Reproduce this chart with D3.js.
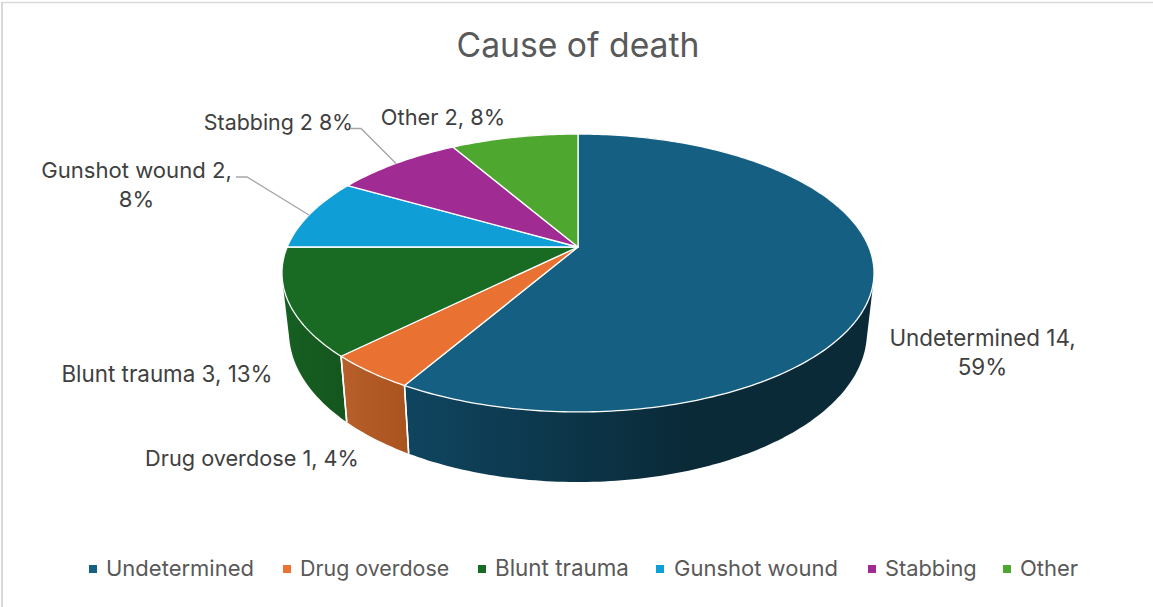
<!DOCTYPE html>
<html><head><meta charset="utf-8">
<script src="https://cdn.jsdelivr.net/npm/d3@7"></script>
<style>html,body{margin:0;padding:0;background:#fff}svg{display:block}</style></head>
<body><svg id="c" width="1153" height="607"></svg>
<script>
const categories=["Undetermined","Drug overdose","Blunt trauma","Gunshot wound","Stabbing","Other"];
const values=[14,1,3,2,2,2];
const colors=["#156082","#E97132","#196B24","#0F9ED5","#A02B93","#4EA72E"];
const sideLight=["#0f4560","#b85f2b","#175f22","#0b7aa5","#7d2173","#3b8223"];
const sideDark=["#0a2a38","#a9531f","#14561e","#0b7aa5","#7d2173","#3b8223"];
const chartTitle="Cause of death";
const FONT="Inter,sans-serif";
const svg=d3.select("#c");
svg.append("line").attr("x1",2).attr("x2",2).attr("y1",2).attr("y2",607).attr("stroke","#d9d9d9").attr("stroke-width",2);
svg.append("line").attr("x1",1).attr("x2",1153).attr("y1",2.5).attr("y2",2.5).attr("stroke","#d9d9d9").attr("stroke-width",1.5);
svg.append("text").attr("x",578).attr("y",57).attr("text-anchor","middle").attr("font-family",FONT).attr("font-size",33.7).attr("fill","#595959").text(chartTitle);

const cx=578,k=0.187;
const proj=(a,ax,b,y0)=>{const u=Math.sin(a),v=Math.cos(a),d=1+k*v;return [cx+ax*u/d,(y0-b*v)/d];};
const rimTop=a=>proj(a,290.8,87.9,247);
const rimBot=a=>proj(a,283.8,87.4,304.5);
const pie=d3.pie().sort(null).value(d=>d)(values);
const line=d3.line();
const samples=(s,e)=>{const n=Math.max(4,Math.ceil((e-s)*60));return d3.range(n+1).map(i=>s+(e-s)*i/n);};
const defs=svg.append("defs");
const g=svg.append("g");
pie.forEach((p,i)=>{
  const as=samples(p.startAngle,p.endAngle);
  const hull=d3.polygonHull(as.map(rimTop).concat(as.map(rimBot)));
  const [xMin,xMax]=d3.extent(hull,d=>d[0]);
  const gr=defs.append("linearGradient").attr("id","s"+i).attr("gradientUnits","userSpaceOnUse").attr("x1",xMin).attr("x2",xMax).attr("y1",0).attr("y2",0);
  gr.append("stop").attr("offset",0).attr("stop-color",sideLight[i]);
  gr.append("stop").attr("offset",i===0?0.6:1).attr("stop-color",sideDark[i]);
  g.append("path").attr("d",line(hull)+"Z").attr("fill",`url(#s${i})`).attr("stroke","none");
});
pie.forEach(p=>{
  [p.startAngle,p.endAngle].forEach(a=>{ if(Math.cos(a)<0&&Math.sin(a)<0) g.append("path").attr("d",line([rimTop(a),rimBot(a)])).attr("stroke","#fff").attr("stroke-width",1.5).attr("fill","none");});
});
pie.forEach((p,i)=>{
  const pts=[[cx,247]].concat(samples(p.startAngle,p.endAngle).map(rimTop));
  g.append("path").attr("d",line(pts)+"Z").attr("fill",colors[i]).attr("stroke","#fff").attr("stroke-width",1.3).attr("stroke-linejoin","round");
});
const labels=[
 {l:["Undetermined 14,","59%"],x:982.5,y:346,s:22.4},
 {l:["Drug overdose 1, 4%"],x:252,y:466,s:21.7},
 {l:["Blunt trauma 3, 13%"],x:167,y:382,s:22.4},
 {l:["Gunshot wound 2,","8%"],x:136.5,y:178,s:22.1},
 {l:["Stabbing 2 8%"],x:278.5,y:130,s:21.4},
 {l:["Other 2, 8%"],x:443,y:125,s:21.8}];
labels.forEach(d=>d.l.forEach((t,j)=>svg.append("text").attr("x",d.x).attr("y",d.y+j*29).attr("text-anchor","middle").attr("font-family",FONT).attr("font-size",d.s).attr("fill","#404040").text(t)));
const leaders=[[[236,177],[247,177],[309,215]],[[350,128.5],[361,128.5],[396,163.5]]];
leaders.forEach(d=>svg.append("path").attr("d",line(d)).attr("fill","none").attr("stroke","#a6a6a6").attr("stroke-width",1.4));
const legX=[89,283,478,656,868,1003],txtX=[106,300,495,674,885,1020],legS=[22,21.4,22.4,22,21.8,22];
categories.forEach((c,i)=>{
  svg.append("rect").attr("x",legX[i]).attr("y",565).attr("width",8).attr("height",8).attr("fill",colors[i]);
  svg.append("text").attr("x",txtX[i]).attr("y",576).attr("font-family",FONT).attr("font-size",legS[i]).attr("fill","#595959").text(c);
});
</script></body></html>
